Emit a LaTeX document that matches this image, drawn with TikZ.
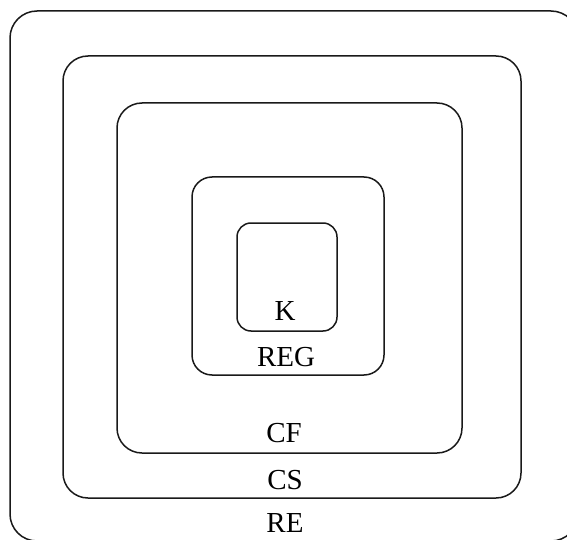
\documentclass[tikz,border=0pt]{standalone}
\usepackage{fontspec}
\setmainfont{Liberation Serif}
\begin{document}
\begin{tikzpicture}[x=1pt,y=-1pt,
  layer/.style={draw=black!90, line width=1.5pt, rounded corners=#1},
  lbl/.style={font=\fontsize{29}{32}\selectfont, inner sep=0pt, anchor=center}]
\useasboundingbox (0,0) rectangle (567,540);
% outer (RE)
\draw[layer=27pt] (10,11) rectangle (578,541);
% CS
\draw[layer=25pt] (63,56) rectangle (521,498);
% CF
\draw[layer=25pt] (117,103) rectangle (462,453);
% REG
\draw[layer=20pt] (192,177) rectangle (384,375);
% K
\draw[layer=14pt] (237,223) rectangle (337,331);
\node[lbl] (k) at (285,311) {K};
\node[lbl] (reg) at (286,357) {REG};
\node[lbl] (cf) at (284,433) {CF};
\node[lbl] (cs) at (285,480) {CS};
\node[lbl] (re) at (285,523) {RE};
\end{tikzpicture}
\end{document}
